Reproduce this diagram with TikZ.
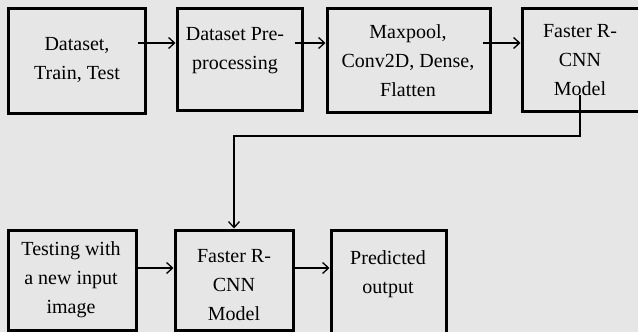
\documentclass[tikz,border=0pt]{standalone}
\usepackage{fontspec}
\setmainfont{Liberation Serif}
\usetikzlibrary{arrows.meta}
\definecolor{bg}{RGB}{230,230,230}
\begin{document}
\begin{tikzpicture}[x=1pt,y=-1pt,
  box/.style={draw=black, line width=3pt, fill=bg, inner sep=0pt},
  txt/.style={align=center, inner sep=0pt, font=\fontsize{20}{29}\selectfont},
  conn/.style={line width=1.3pt, -{Straight Barb[length=6pt,width=11pt,line width=1.3pt]}},
  inside/.style={shorten <=-9pt}]
\useasboundingbox (0,0) rectangle (638,332);
\fill[bg] (0,0) rectangle (638,332);
\clip (0,0) rectangle (638,332);
% boxes
\node[box, minimum width=137, minimum height=105] (b1) at (76.5,60.5) {};
\node[box, minimum width=125, minimum height=102] (b2) at (239.5,59) {};
\node[box, minimum width=163, minimum height=104] (b3) at (408.5,60) {};
\node[box, minimum width=118, minimum height=103] (b4) at (581,59.5) {};
\node[box, minimum width=128, minimum height=100] (b5) at (72,280) {};
\node[box, minimum width=118, minimum height=100] (b6) at (234,280) {};
\node[box, minimum width=115, minimum height=110] (b7) at (388.5,285) {};
% texts
\node[txt] (t1) at (77,60) {Dataset,\\Train, Test};
\node[txt] (t2) at (235,51) {Dataset Pre-\\processing};
\node[txt] (t3) at (408,61) {Maxpool,\\Conv2D, Dense,\\Flatten};
\node[txt] (t4) at (580,60) {Faster R-\\CNN\\Model};
\node[txt] (t5) at (71,280) {Testing with\\a new input\\image};
\node[txt] (t6) at (234,285) {Faster R-\\CNN\\Model};
\node[txt] (t7) at (388,274) {Predicted\\output};
% connectors
\draw[conn, inside] (b1.east |- 0,43) -- (b2.west |- 0,43);
\draw[conn, inside] (b2.east |- 0,43) -- (b3.west |- 0,43);
\draw[conn, inside] (b3.east |- 0,43) -- (b4.west |- 0,43);
\coordinate (s) at (580,95);
\draw[conn] (s) -- (580,136) -| (b6.north);
\draw[conn, shorten <=-3pt] (b5.east |- 0,268) -- (b6.west |- 0,268);
\draw[conn, shorten <=-1pt] (b6.east |- 0,268) -- (b7.west |- 0,268);
\end{tikzpicture}
\end{document}
